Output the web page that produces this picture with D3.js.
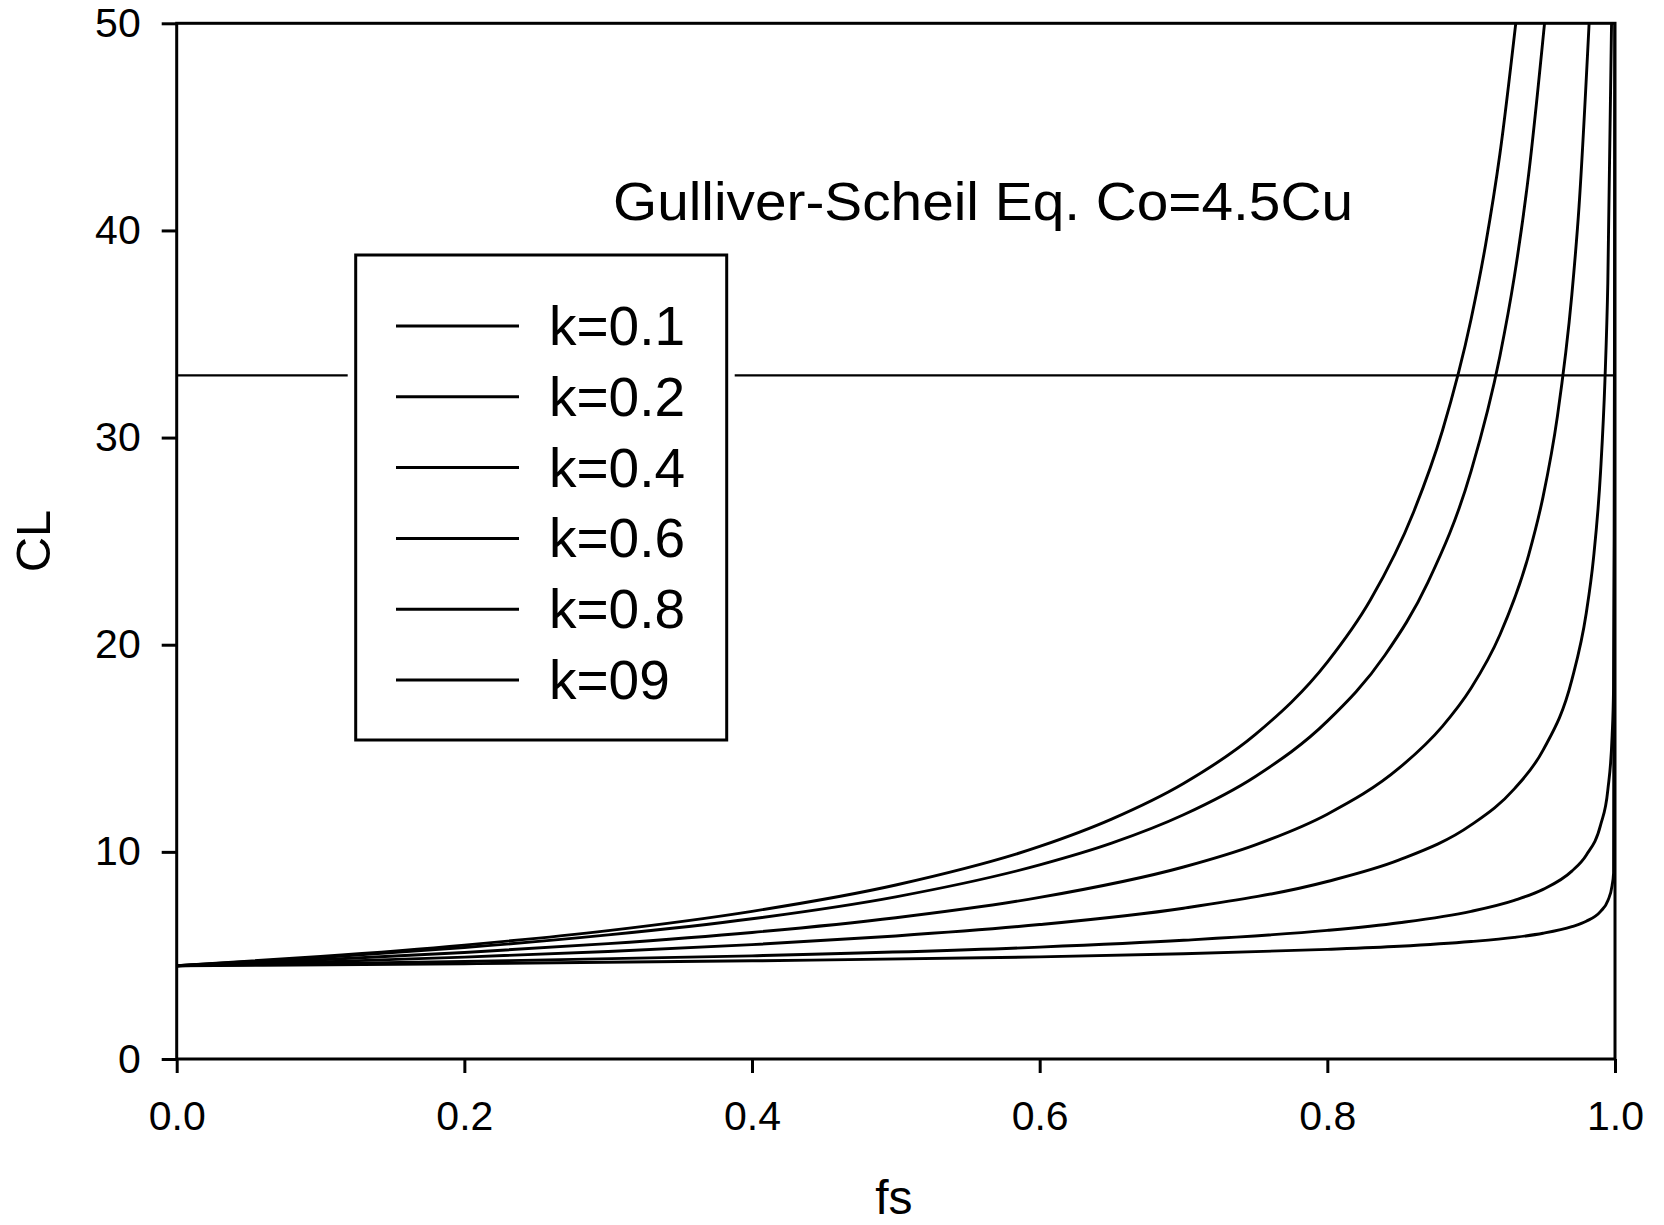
<!DOCTYPE html>
<html>
<head>
<meta charset="utf-8">
<script src="https://cdn.jsdelivr.net/npm/d3@7"></script>
<style>
  html, body { margin: 0; padding: 0; background: #fff; }
  svg text { font-family: "Liberation Sans", Arial, Helvetica, sans-serif; fill: #000; }
</style>
</head>
<body>
<svg id="chart" width="1664" height="1225"></svg>
<script>
// Liquid composition CL vs. solid fraction fs, one series per partition coefficient k.
// Each series is a list of [fs, CL] points.
const seriesK01 = [[0,4.5],[0.1,4.95],[0.2,5.5],[0.3,6.2],[0.4,7.13],[0.5,8.4],[0.6,10.26],[0.65,11.58],[0.7,13.3],[0.75,15.67],[0.8,19.16],[0.83,22.17],[0.86,26.41],[0.88,30.33],[0.9,35.74],[0.91,39.3],[0.92,43.7],[0.931,50]];
const seriesK02 = [[0,4.5],[0.1,4.9],[0.2,5.38],[0.3,5.99],[0.4,6.77],[0.5,7.83],[0.6,9.37],[0.65,10.42],[0.7,11.79],[0.75,13.64],[0.8,16.31],[0.84,19.49],[0.87,23.02],[0.9,28.39],[0.92,33.94],[0.93,37.77],[0.94,42.73],[0.951,50]];
const seriesK04 = [[0,4.5],[0.1,4.79],[0.2,5.14],[0.3,5.57],[0.4,6.11],[0.5,6.82],[0.6,7.8],[0.7,9.27],[0.75,10.34],[0.8,11.82],[0.85,14.05],[0.88,16.06],[0.9,17.91],[0.92,20.48],[0.94,24.34],[0.95,27.15],[0.96,31.05],[0.97,36.9],[0.975,41.16],[0.982,50]];
const seriesK06 = [[0,4.5],[0.1,4.69],[0.2,4.92],[0.3,5.19],[0.4,5.52],[0.5,5.94],[0.6,6.49],[0.7,7.28],[0.8,8.57],[0.85,9.61],[0.9,11.3],[0.93,13.04],[0.95,14.91],[0.97,18.3],[0.98,21.52],[0.985,24.14],[0.99,28.39],[0.993,32.75],[0.995,37.46],[0.9976,50]];
const seriesK08 = [[0,4.5],[0.2,4.71],[0.4,4.98],[0.6,5.4],[0.7,5.73],[0.8,6.21],[0.85,6.58],[0.9,7.13],[0.93,7.66],[0.95,8.19],[0.97,9.07],[0.98,9.84],[0.99,11.3],[0.995,12.98],[0.998,15.6],[0.999,17.91],[0.9999,28.39],[1.0,50]];
const seriesK09 = [[0,4.5],[0.2,4.6],[0.4,4.74],[0.6,4.93],[0.7,5.08],[0.8,5.29],[0.85,5.44],[0.9,5.67],[0.93,5.87],[0.95,6.07],[0.97,6.39],[0.98,6.65],[0.99,7.13],[0.995,7.64],[0.998,8.38],[0.999,8.98],[1.0,50]];

const seriesList = [seriesK01, seriesK02, seriesK04, seriesK06, seriesK08, seriesK09];
const legendLabels = ["k=0.1", "k=0.2", "k=0.4", "k=0.6", "k=0.8", "k=09"];

// Horizontal reference level on the CL axis
const referenceLevels = [33];

const xTicks = [0, 0.2, 0.4, 0.6, 0.8, 1.0];
const yTicks = [0, 10, 20, 30, 40, 50];
const xDomain = [0, 1];
const yDomain = [0, 50];

const titleText = "Gulliver-Scheil Eq. Co=4.5Cu";
const xLabel = "fs";
const yLabel = "CL";

// ---- layout ----
const plot = { left: 176.7, right: 1615, top: 23.3, bottom: 1059 };

const svg = d3.select("#chart");

const x = d3.scaleLinear().domain(xDomain).range([plot.left, plot.right]);
const y = d3.scaleLinear().domain(yDomain).range([plot.bottom, plot.top]);

svg.append("defs").append("clipPath").attr("id", "plot-clip")
  .append("rect")
  .attr("x", plot.left).attr("y", plot.top)
  .attr("width", plot.right - plot.left).attr("height", plot.bottom - plot.top);

// curves
const line = d3.line()
  .x(d => x(d[0]))
  .y(d => y(d[1]))
  .curve(d3.curveMonotoneX);

const curves = svg.append("g").attr("clip-path", "url(#plot-clip)");
curves.selectAll("path.series")
  .data(seriesList)
  .join("path")
  .attr("class", "series")
  .attr("d", line)
  .attr("fill", "none")
  .attr("stroke", "#000")
  .attr("stroke-width", 2.9)
  .attr("stroke-linejoin", "round");

// reference level line
curves.selectAll("line.ref")
  .data(referenceLevels)
  .join("line")
  .attr("class", "ref")
  .attr("x1", x(xDomain[0])).attr("x2", x(xDomain[1]))
  .attr("y1", d => y(d)).attr("y2", d => y(d))
  .attr("stroke", "#000")
  .attr("stroke-width", 2.2);

// axes
const fontSizeTick = 41;
const xAxis = d3.axisBottom(x).tickValues(xTicks).tickFormat(d3.format(".1f"))
  .tickSize(14).tickSizeOuter(0).tickPadding(28);
const yAxis = d3.axisLeft(y).tickValues(yTicks).tickFormat(d3.format("d"))
  .tickSize(15).tickSizeOuter(0).tickPadding(21);

const gx = svg.append("g").attr("transform", `translate(0,${plot.bottom})`).call(xAxis);
const gy = svg.append("g").attr("transform", `translate(${plot.left},0)`).call(yAxis);
[gx, gy].forEach(g => {
  g.select(".domain").remove();
  g.selectAll(".tick line").attr("stroke", "#000").attr("stroke-width", 3);
  g.selectAll(".tick text").attr("font-size", fontSizeTick)
    .style("font-family", "'Liberation Sans', Arial, sans-serif").attr("fill", "#000");
});

// frame
svg.append("rect")
  .attr("x", plot.left).attr("y", plot.top)
  .attr("width", plot.right - plot.left).attr("height", plot.bottom - plot.top)
  .attr("fill", "none").attr("stroke", "#000").attr("stroke-width", 3);

// axis titles
svg.append("text")
  .attr("x", (plot.left + plot.right) / 2 - 2)
  .attr("y", 1214)
  .attr("text-anchor", "middle")
  .attr("font-size", 48)
  .text(xLabel);

svg.append("text")
  .attr("transform", `translate(50,541) rotate(-90)`)
  .attr("text-anchor", "middle")
  .attr("font-size", 49)
  .text(yLabel);

// annotation title
svg.append("text")
  .attr("x", 613)
  .attr("y", 220)
  .attr("font-size", 53)
  .attr("textLength", 740)
  .attr("lengthAdjust", "spacingAndGlyphs")
  .text(titleText);

// legend
const legend = { x: 355.7, y: 255, w: 371, h: 485, pad: 8 };
const lg = svg.append("g");
lg.append("rect")
  .attr("x", legend.x - legend.pad).attr("y", legend.y - legend.pad)
  .attr("width", legend.w + 2 * legend.pad).attr("height", legend.h + 2 * legend.pad)
  .attr("fill", "#fff");
lg.append("rect")
  .attr("x", legend.x).attr("y", legend.y)
  .attr("width", legend.w).attr("height", legend.h)
  .attr("fill", "#fff").attr("stroke", "#000").attr("stroke-width", 3);

const rowStep = 70.8;
const rows = lg.selectAll("g.row")
  .data(legendLabels)
  .join("g")
  .attr("class", "row")
  .attr("transform", (d, i) => `translate(0,${326 + i * rowStep})`);
rows.append("line")
  .attr("x1", 396).attr("x2", 519)
  .attr("y1", 0).attr("y2", 0)
  .attr("stroke", "#000").attr("stroke-width", 3);
rows.append("text")
  .attr("x", 549)
  .attr("y", 19)
  .attr("font-size", 55)
  .text(d => d);
</script>
</body>
</html>
